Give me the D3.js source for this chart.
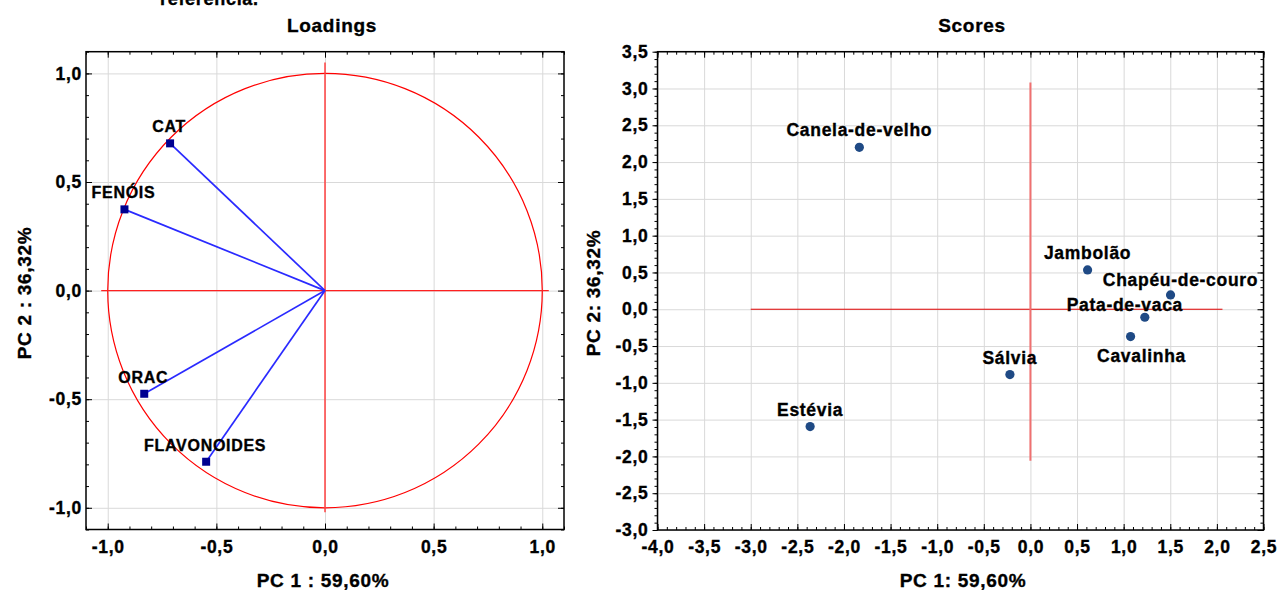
<!DOCTYPE html>
<html>
<head>
<meta charset="utf-8">
<script src="https://cdnjs.cloudflare.com/ajax/libs/d3/7.8.5/d3.min.js"></script>
<style>
  body { margin: 0; background: #fff; }
  text { font-family: Arial, "Liberation Sans", sans-serif; font-weight: bold; fill: #000; stroke: #000; stroke-width: 0.35px; letter-spacing: 0.7px; }
  .grid line { stroke: #d9d9d9; stroke-width: 1; }
  .grid .domain { display: none; }
  .ax .domain { display: none; }
  .ax line { stroke: #000; stroke-width: 1; }
  .ax text { font-size: 17.5px; }
</style>
</head>
<body>
<div id="chart_container"></div>
<script>
// loadings (variables)
var loadVars = ["CAT", "FENÓIS", "ORAC", "FLAVONOIDES"];
var loadPC1 = [-0.713, -0.923, -0.832, -0.547];
var loadPC2 = [0.678, 0.374, -0.475, -0.788];
// scores (samples)
var species = ["Canela-de-velho", "Estévia", "Jambolão", "Chapéu-de-couro", "Pata-de-vaca", "Cavalinha", "Sálvia"];
var scorePC1 = [-1.835, -2.363, 0.613, 1.503, 1.227, 1.074, -0.22];
var scorePC2 = [2.20, -1.594, 0.534, 0.194, -0.109, -0.372, -0.888];
// tick labels
var loadTicks = [-1.0, -0.5, 0.0, 0.5, 1.0];
var scoreXTicks = [-4.0, -3.5, -3.0, -2.5, -2.0, -1.5, -1.0, -0.5, 0.0, 0.5, 1.0, 1.5, 2.0, 2.5];
var scoreYTicks = [-3.0, -2.5, -2.0, -1.5, -1.0, -0.5, 0.0, 0.5, 1.0, 1.5, 2.0, 2.5, 3.0, 3.5];

var W = 1278, H = 590;
var fmt = d3.formatLocale({ decimal: ",", thousands: ".", grouping: [3], currency: ["", ""], minus: "-" }).format(".1f");

var svg = d3.select("#chart_container").append("svg")
    .attr("width", W)
    .attr("height", H);
svg.append("rect").attr("width", W).attr("height", H).attr("fill", "#fff");

// cropped text from the page above the figure
svg.append("text").attr("x", 160).attr("y", 5).style("font-size", "18px").text("referência.");

// draws frame, grid and ticks for one panel
function panel(x, y, xt, yt, xMinor, yMinor, leftOut) {
    var x0 = x.range()[0], x1 = x.range()[1];
    var y0 = y.range()[0], y1 = y.range()[1];
    var g = svg.append("g");
    // grid
    g.append("g").attr("class", "grid")
        .attr("transform", "translate(0," + y0 + ")")
        .call(d3.axisBottom(x).tickValues(xt).tickSize(-(y0 - y1)).tickFormat(""));
    g.append("g").attr("class", "grid")
        .attr("transform", "translate(" + x0 + ",0)")
        .call(d3.axisLeft(y).tickValues(yt).tickSize(-(x1 - x0)).tickFormat(""));
    // minor ticks on all sides
    g.append("g").attr("class", "ax").attr("transform", "translate(0," + y0 + ")")
        .call(d3.axisBottom(x).tickValues(xMinor).tickSize(-3).tickFormat(""));
    g.append("g").attr("class", "ax").attr("transform", "translate(0," + y1 + ")")
        .call(d3.axisTop(x).tickValues(xMinor).tickSize(-3).tickFormat(""));
    g.append("g").attr("class", "ax").attr("transform", "translate(" + x0 + ",0)")
        .call(d3.axisLeft(y).tickValues(yMinor).tickSize(leftOut ? 3 : -3).tickFormat(""));
    g.append("g").attr("class", "ax").attr("transform", "translate(" + x1 + ",0)")
        .call(d3.axisRight(y).tickValues(yMinor).tickSize(-3).tickFormat(""));
    // major ticks + labels
    g.append("g").attr("class", "ax").attr("transform", "translate(0," + y0 + ")")
        .call(d3.axisBottom(x).tickValues(xt).tickSize(-6).tickPadding(11).tickFormat(fmt));
    g.append("g").attr("class", "ax").attr("transform", "translate(0," + y1 + ")")
        .call(d3.axisTop(x).tickValues(xt).tickSize(-6).tickFormat(""));
    g.append("g").attr("class", "ax").attr("transform", "translate(" + x0 + ",0)")
        .call(d3.axisLeft(y).tickValues(yt).tickSize(leftOut ? 5 : -6).tickPadding(4).tickFormat(fmt));
    g.append("g").attr("class", "ax").attr("transform", "translate(" + x1 + ",0)")
        .call(d3.axisRight(y).tickValues(yt).tickSize(-6).tickFormat(""));
    // frame
    g.append("rect")
        .attr("x", x0).attr("y", y1)
        .attr("width", x1 - x0).attr("height", y0 - y1)
        .attr("fill", "none").attr("stroke", "#000").attr("stroke-width", 1.5);
    return g;
}

function titles(cx, xTitle, yTitle, yx, main) {
    svg.append("text").attr("x", cx).attr("y", 32).attr("text-anchor", "middle")
        .style("font-size", "19px").text(main);
    svg.append("text").attr("x", cx - 9).attr("y", 587).attr("text-anchor", "middle")
        .style("font-size", "19px").text(xTitle);
    svg.append("text").attr("transform", "translate(" + yx + ",293) rotate(-90)")
        .attr("text-anchor", "middle").style("font-size", "19px").text(yTitle);
}

// ---------- Loadings ----------
var xL = d3.scaleLinear().domain([-1.1, 1.1]).range([86, 564]);
var yL = d3.scaleLinear().domain([-1.1, 1.1]).range([529.5, 51.7]);
var minorL = d3.range(-11, 12).map(function(i) { return i / 10; });
panel(xL, yL, loadTicks, loadTicks, minorL, minorL, false);

// unit circle
svg.append("ellipse")
    .attr("cx", xL(0)).attr("cy", yL(0))
    .attr("rx", xL(1) - xL(0)).attr("ry", yL(0) - yL(1))
    .attr("fill", "none").attr("stroke", "#ff0000").attr("stroke-width", 1.2);
// axis lines
svg.append("line").attr("x1", xL(-1.03)).attr("x2", xL(1.03)).attr("y1", yL(0)).attr("y2", yL(0))
    .attr("stroke", "#ff2020").attr("stroke-width", 1.2);
svg.append("line").attr("x1", xL(0)).attr("x2", xL(0)).attr("y1", yL(1.05)).attr("y2", yL(-1.02))
    .attr("stroke", "#ff4040").attr("stroke-width", 1.5);

var loadData = loadVars.map(function(v, i) { return { name: v, x: loadPC1[i], y: loadPC2[i] }; });
svg.selectAll(".vec").data(loadData).enter().append("line")
    .attr("x1", xL(0)).attr("y1", yL(0))
    .attr("x2", function(d) { return xL(d.x); })
    .attr("y2", function(d) { return yL(d.y); })
    .attr("stroke", "#2a2aff").attr("stroke-width", 1.7);
svg.selectAll(".sq").data(loadData).enter().append("rect")
    .attr("x", function(d) { return xL(d.x) - 4; })
    .attr("y", function(d) { return yL(d.y) - 4; })
    .attr("width", 8).attr("height", 8)
    .attr("fill", "#000090");
svg.selectAll(".lbl").data(loadData).enter().append("text")
    .attr("x", function(d) { return xL(d.x) - 1; })
    .attr("y", function(d) { return yL(d.y) - 11; })
    .attr("text-anchor", "middle").style("font-size", "16px")
    .text(function(d) { return d.name; });

titles(332, "PC 1 : 59,60%", "PC 2 : 36,32%", 31, "Loadings");

// ---------- Scores ----------
var xS = d3.scaleLinear().domain([-4, 2.5]).range([657.5, 1263.5]);
var yS = d3.scaleLinear().domain([-3, 3.5]).range([530, 51.7]);
var minorSX = d3.range(-40, 26).map(function(i) { return i / 10; });
var minorSY = d3.range(-30, 36).map(function(i) { return i / 10; });
panel(xS, yS, scoreXTicks, scoreYTicks, minorSX, minorSY, true);

svg.append("line").attr("x1", xS(-3.0)).attr("x2", xS(2.06)).attr("y1", yS(0)).attr("y2", yS(0))
    .attr("stroke", "#e00000").attr("stroke-width", 1);
svg.append("line").attr("x1", xS(0)).attr("x2", xS(0)).attr("y1", yS(3.08)).attr("y2", yS(-2.06))
    .attr("stroke", "#f07070").attr("stroke-width", 2);

// label nudges [dx, dy] relative to the default spot above the point
var labelNudge = {
    "Chapéu-de-couro": [10, 2],
    "Pata-de-vaca": [-20, 4.5],
    "Cavalinha": [11, 36]
};
var scoreData = species.map(function(s, i) { return { name: s, x: scorePC1[i], y: scorePC2[i] }; });
svg.selectAll(".pt").data(scoreData).enter().append("circle")
    .attr("cx", function(d) { return xS(d.x); })
    .attr("cy", function(d) { return yS(d.y); })
    .attr("r", 4.6)
    .attr("fill", "#1f4a85");
svg.selectAll(".slbl").data(scoreData).enter().append("text")
    .attr("x", function(d) { return xS(d.x) + (labelNudge[d.name] ? labelNudge[d.name][0] : 0); })
    .attr("y", function(d) { return yS(d.y) - 11 + (labelNudge[d.name] ? labelNudge[d.name][1] : 0); })
    .attr("text-anchor", "middle").style("font-size", "17.5px")
    .text(function(d) { return d.name; });

titles(972, "PC 1: 59,60%", "PC 2: 36,32%", 600, "Scores");
</script>
</body>
</html>
